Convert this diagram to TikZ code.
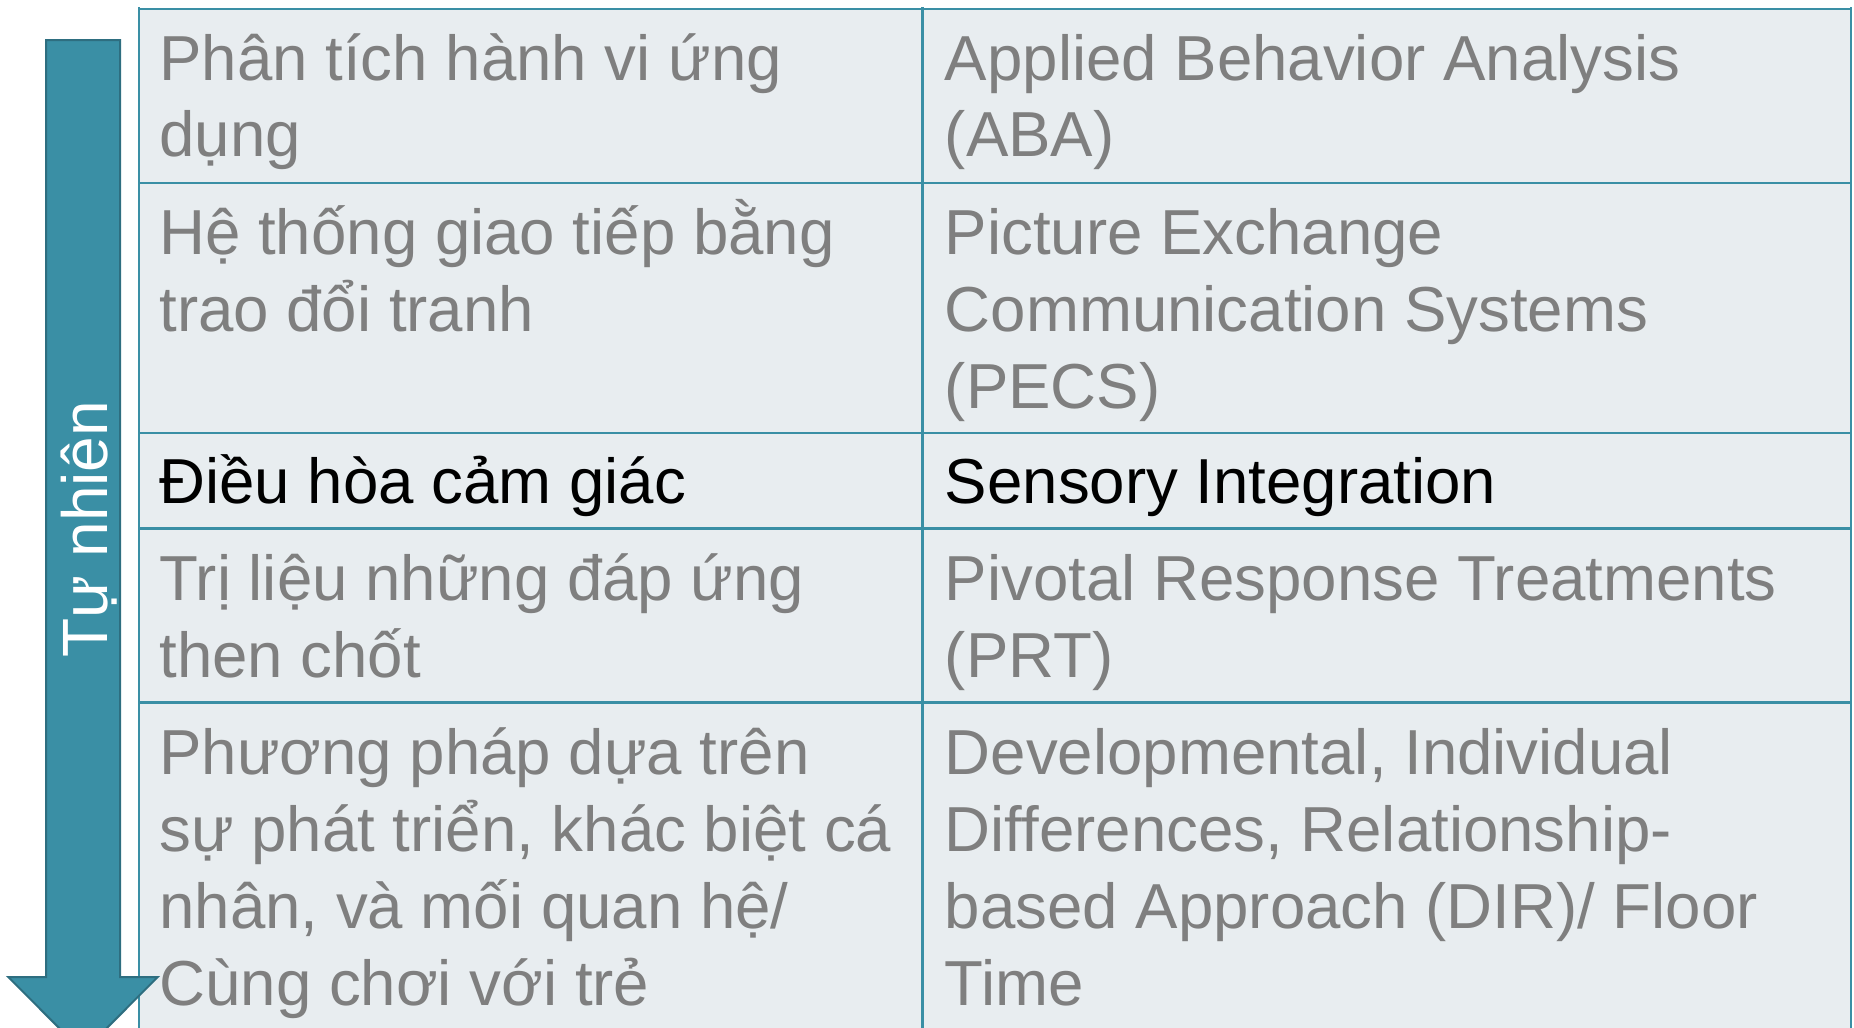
\documentclass[tikz,border=0pt]{standalone}
\usepackage{fontspec}
\setmainfont{Liberation Sans}
\usepackage{tikz}
\usetikzlibrary{positioning}

\definecolor{tealfill}{HTML}{3A8FA5}
\definecolor{tealedge}{HTML}{2E6E80}
\definecolor{cellfill}{HTML}{E8EDF0}
\definecolor{txtgray}{HTML}{7F7F7F}

\newcommand{\cellfont}{\fontsize{31.8}{38.5}\selectfont}
\newcommand{\celllines}[1]{\parbox[t]{600pt}{\raggedright #1}}

\tikzset{
    gridline/.style={draw=tealfill, line width=1.3pt},
    celltext/.style={anchor=base west, inner sep=0pt, text=txtgray, font=\cellfont},
    flowarrow/.style={fill=tealfill, draw=tealedge, line width=1pt, line join=miter},
}

\begin{document}
\begin{tikzpicture}[x=0.5pt, y=-0.5pt]
    \useasboundingbox (0,0) rectangle (1854,1028);
    \clip (0,0) rectangle (1854,1028);
    % table
    \fill[cellfill] (139,9) rectangle (1851,1040);
    \foreach \y in {9,183,433,528.5,702.5}
        \draw[gridline] (138,\y) -- (1852,\y);
    \foreach \x in {139,922.5,1851}
        \draw[gridline] (\x,7) -- (\x,1040);

    \node[celltext] (vi1) at (159,80) {\celllines{Phân tích hành vi ứng\\dụng}};
    \node[celltext] (en1) at (944.5,80) {\celllines{Applied Behavior Analysis\\(ABA)}};
    \node[celltext] (vi2) at (159,254) {\celllines{Hệ thống giao tiếp bằng\\trao đổi tranh}};
    \node[celltext] (en2) at (944.5,254) {\celllines{Picture Exchange\\Communication Systems\\(PECS)}};
    \node[celltext, text=black] (vi3) at (159,503) {\celllines{Điều hòa cảm giác}};
    \node[celltext, text=black] (en3) at (944.5,503) {\celllines{Sensory Integration}};
    \node[celltext] (vi4) at (159,600) {\celllines{Trị liệu những đáp ứng\\then chốt}};
    \node[celltext] (en4) at (944.5,600) {\celllines{Pivotal Response Treatments\\(PRT)}};
    \node[celltext] (vi5) at (159,774) {\celllines{Phương pháp dựa trên\\sự phát triển, khác biệt cá\\nhân, và mối quan hệ/\\Cùng chơi với trẻ}};
    \node[celltext] (en5) at (944.5,774) {\celllines{Developmental, Individual\\Differences, Relationship-\\based Approach (DIR)/ Floor\\Time}};

    % arrow
    \draw[flowarrow] (46,40) -- (120,40) -- (120,977) -- (157.7,977) -- (83,1052)
        -- (8.3,977) -- (46,977) -- cycle;
    \node[rotate=90, anchor=base, inner sep=0pt, text=white,
        font=\fontsize{32}{38}\selectfont] (flow) at (107,529) {Tự nhiên};
\end{tikzpicture}
\end{document}
